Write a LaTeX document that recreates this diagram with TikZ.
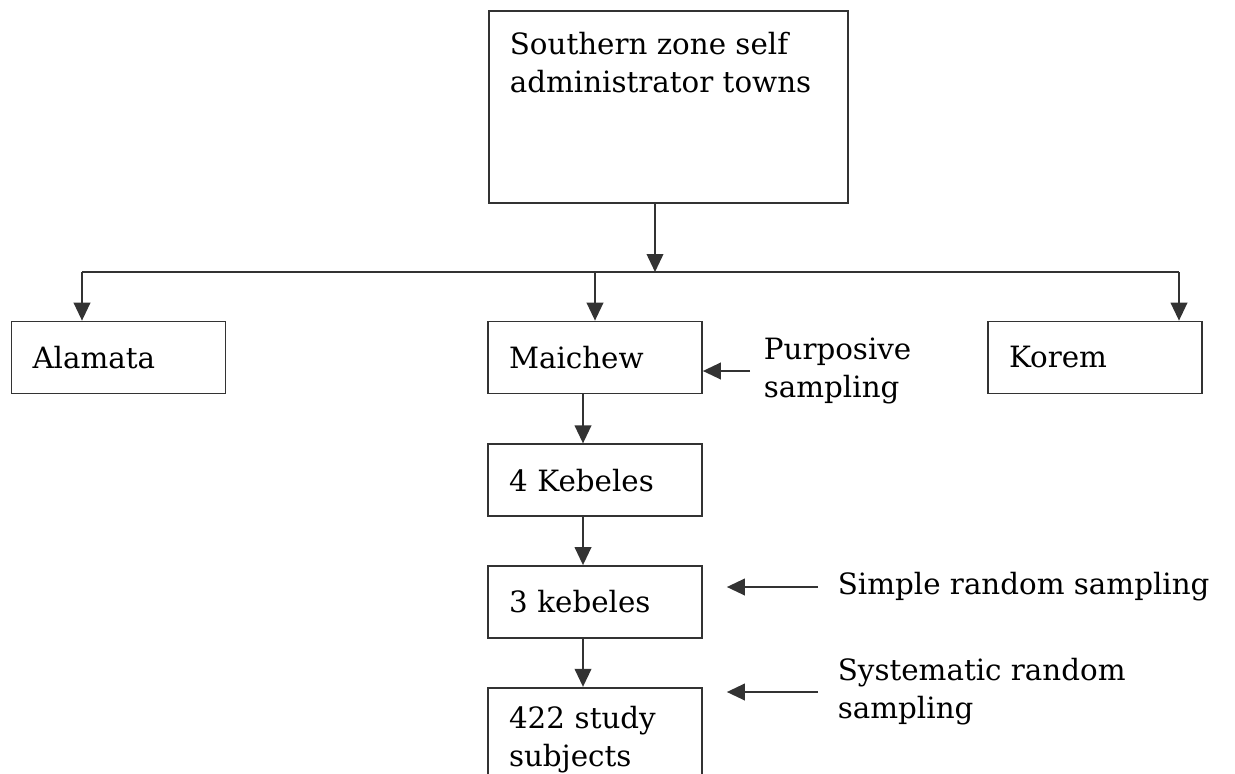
\documentclass[tikz,border=0pt]{standalone}
\usepackage{fontspec}
\setmainfont{DejaVu Serif}
\usetikzlibrary{positioning}
\usetikzlibrary{arrows.meta}

\begin{document}
\begin{tikzpicture}[x=0.75pt,y=-0.75pt,
      font=\fontsize{22}{28.5}\selectfont,
      line width=1.3pt,
      box style/.style={rectangle,draw=black!80,text width=129pt,minimum
        height=54pt,inner xsep=15.75pt,align=left},
      note style/.style={inner sep=0pt,align=left,anchor=west},
      arr/.style={draw=black!80,-{Triangle[length=13.5pt,width=12.5pt]}}
      ]
      \useasboundingbox (0,0) rectangle (1235,774);
      \clip (0,0) rectangle (1235,774);

      \node[draw=black!80,inner sep=15.75pt,anchor=north west] (zone) at (488,10)
        {\parbox[t][112.5pt][t]{237.75pt}{Southern zone self\\administrator towns}};
      \node[box style] (alamata) at (118.5,357.5) {Alamata};
      \node[box style] (maichew) at (595,357.5) {Maichew};
      \node[box style] (korem) at (1095,357.5) {Korem};
      \node[box style,below=36.75pt of maichew] (kebeles4) {4 Kebeles};
      \node[box style,below=36pt of kebeles4] (kebeles3) {3 kebeles};
      \node[box style,below=36pt of kebeles3,inner ysep=14pt,text
        depth=60pt] (subjects) {422 study\\subjects};

      \node[note style] (purposive) at (763,371) {Purposive\\sampling};
      \node[note style] (simple) at (837,587) {Simple random sampling};
      \node[note style] (systematic) at (837,692) {Systematic random\\sampling};

      \coordinate (bus) at (655,272);
      \coordinate (busleft) at (82,272);
      \coordinate (busright) at (1179,272);

      \draw[draw=black!80] (busleft) -- (busright);
      \draw[arr] (zone.south -| bus) -- (bus);
      \draw[arr] (busleft) -- (busleft |- alamata.north);
      \draw[arr] (maichew.north |- bus) -- (maichew.north);
      \draw[arr] (busright) -- (busright |- korem.north);

      \draw[arr] ([xshift=-9pt]maichew.south) -- ([xshift=-9pt]kebeles4.north);
      \draw[arr] ([xshift=-9pt]kebeles4.south) -- ([xshift=-9pt]kebeles3.north);
      \draw[arr] ([xshift=-9pt]kebeles3.south) -- ([xshift=-9pt]subjects.north);

      \draw[arr] ([xshift=-9.75pt]purposive.west) -- (purposive.west -| maichew.east);
      \draw[arr] ([xshift=-14.25pt]simple.west) -- ([xshift=18pt]simple.west -| kebeles3.east);
      \draw[arr] ([xshift=-14.25pt]systematic.west) -- ([xshift=18pt]systematic.west -| subjects.east);

    \end{tikzpicture}
\end{document}
